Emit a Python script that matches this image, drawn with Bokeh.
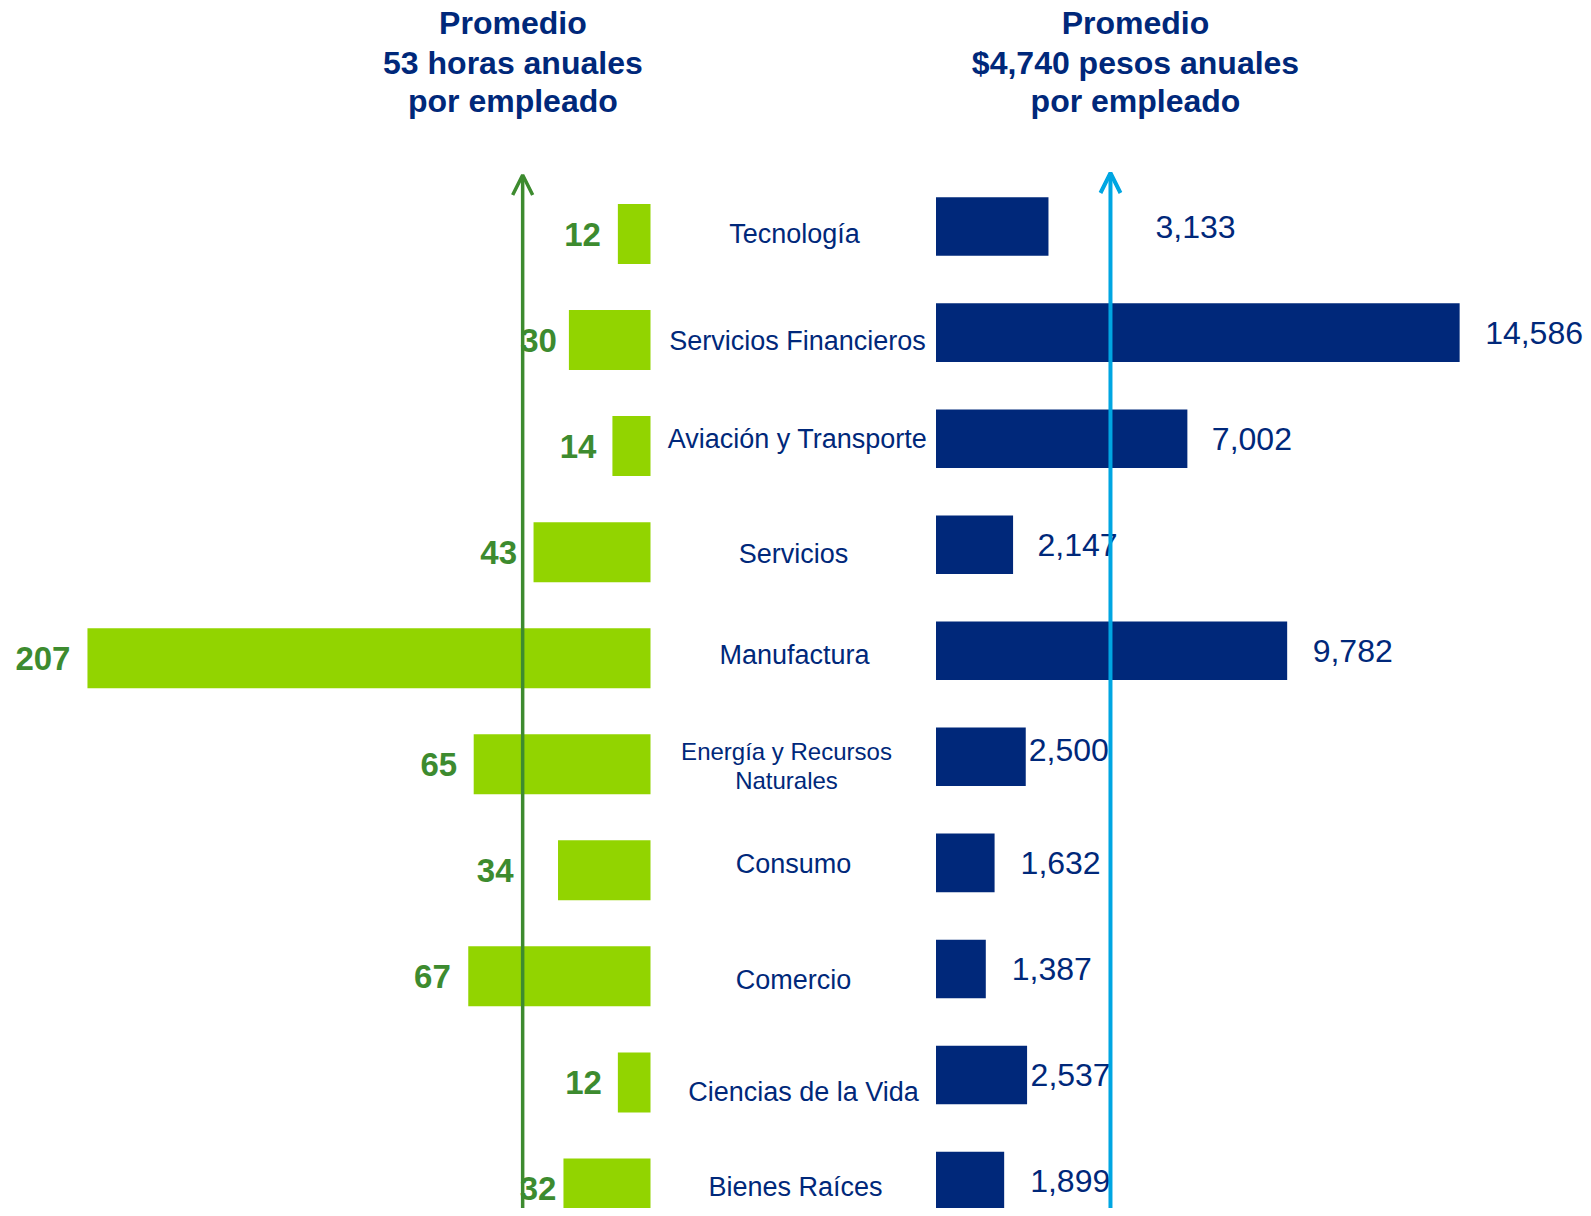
from bokeh.plotting import figure
from bokeh.models import Range1d, Arrow, OpenHead, Label
from bokeh.embed import file_html
from bokeh.resources import INLINE
from bokeh.core.properties import value

# ---------------- data ----------------
sectores = ["Tecnología", "Servicios Financieros", "Aviación y Transporte", "Servicios",
            "Manufactura", "Energía y Recursos\nNaturales", "Consumo", "Comercio",
            "Ciencias de la Vida", "Bienes Raíces"]
horas = [12, 30, 14, 43, 207, 65, 34, 67, 12, 32]
pesos = [3133, 14586, 7002, 2147, 9782, 2500, 1632, 1387, 2537, 1899]
titulo_horas = ["Promedio", "53 horas anuales", "por empleado"]
titulo_pesos = ["Promedio", "$4,740 pesos anuales", "por empleado"]
flecha_horas = 47      # position of the green reference arrow (hours)
flecha_pesos = 4860    # position of the blue reference arrow (pesos)

# ---------------- layout constants (screen px) ----------------
W, H = 1583, 1208
G0, GS = 650.0, 2.72      # zero of hours axis, px per hour (bars grow leftwards)
B0, BS = 935.5, 0.0359    # zero of pesos axis, px per peso
Y0, ROW = 233.5, 106.05   # centre of first row, row pitch
MID = 794.0               # centre of the category labels

NAVY = "#00287A"
LIME = "#92D400"
GREEN = "#3D8B2F"
CYAN = "#00A6E2"
FONT_NAME = "Liberation Sans"
FONT = value(FONT_NAME)

idx = list(range(len(sectores)))
blue_y = [i - 0.07 for i in idx]

p = figure(width=W, height=H, output_backend="svg", toolbar_location=None,
           x_range=Range1d(G0 / GS, -(W - G0) / GS),
           y_range=Range1d((H - Y0) / ROW, -Y0 / ROW),
           x_axis_location=None, y_axis_location=None,
           min_border=0, outline_line_color=None)
p.extra_x_ranges = {"pesos": Range1d(-B0 / BS, (W - B0) / BS)}
p.grid.visible = False
p.background_fill_color = "white"
p.border_fill_color = "white"

# bars
p.hbar(y=idx, left=0, right=horas, height=0.566, fill_color=LIME, line_color=None)
p.hbar(y=blue_y, left=0, right=pesos, height=0.552, fill_color=NAVY, line_color=None,
       x_range_name="pesos")

# value labels (screen-pixel gaps are style only)
g_gap = [17, 12, 16, 16.5, 17, 16.5, 44.5, 17.5, 16, 7]
p.text(x=horas, y=idx, text=[str(h) for h in horas], x_offset=[-g for g in g_gap],
       text_align="right", text_baseline="middle", text_font=FONT,
       text_font_style="bold", text_font_size="33px", text_color=GREEN)

b_gap = [107, 25.5, 24.5, 24.5, 25.5, 3, 26, 26, 3.5, 26]
b_dy = [0, 0, 0, 0, 0, -0.06, 0, 0, 0, 0]
p.text(x=pesos, y=[y + d for y, d in zip(blue_y, b_dy)], text=[f"{v:,}" for v in pesos],
       x_offset=b_gap, text_align="left", text_baseline="middle", text_font=FONT,
       text_font_size="32px", text_color=NAVY, x_range_name="pesos")

# category labels
c_dx = [0, 3, 3, -1, 0, -8, -1, -1, 9, 1]
c_dy = [0, 1, -7, 2, -3.5, 1.5, -6.5, 3.5, 10, -1]
c_size = ["27px"] * len(sectores)
c_size[5] = "24px"
p.text(x=[(G0 - MID) / GS] * len(sectores), y=[i + d / ROW for i, d in zip(idx, c_dy)],
       text=sectores, x_offset=c_dx, text_align="center", text_baseline="middle",
       text_font=FONT, text_font_size=c_size, text_color=NAVY, text_line_height=1.06)

# reference arrows
p.add_layout(Arrow(end=OpenHead(size=20, line_color=GREEN, line_width=3.5),
                   x_start=flecha_horas, y_start=(H + 10 - Y0) / ROW, x_end=flecha_horas,
                   y_end=(174.5 - Y0) / ROW, line_color=GREEN, line_width=3.5))
p.add_layout(Arrow(end=OpenHead(size=20, line_color=CYAN, line_width=4),
                   x_start=flecha_pesos, y_start=(1209 - Y0) / ROW, x_end=flecha_pesos,
                   y_end=(172.5 - Y0) / ROW, line_color=CYAN, line_width=4,
                   x_range_name="pesos"))

# titles
for cx, lines in ((512.4, titulo_horas), (1135.0, titulo_pesos)):
    for ly, t in zip((22.5, 62.0, 100.5), lines):
        p.add_layout(Label(x=cx, y=H - ly, x_units="screen", y_units="screen", text=t,
                           text_align="center", text_baseline="middle", text_font=FONT_NAME,
                           text_font_style="bold", text_font_size="32px",
                           text_color=NAVY))

open("out.html", "w").write(file_html(p, INLINE))
